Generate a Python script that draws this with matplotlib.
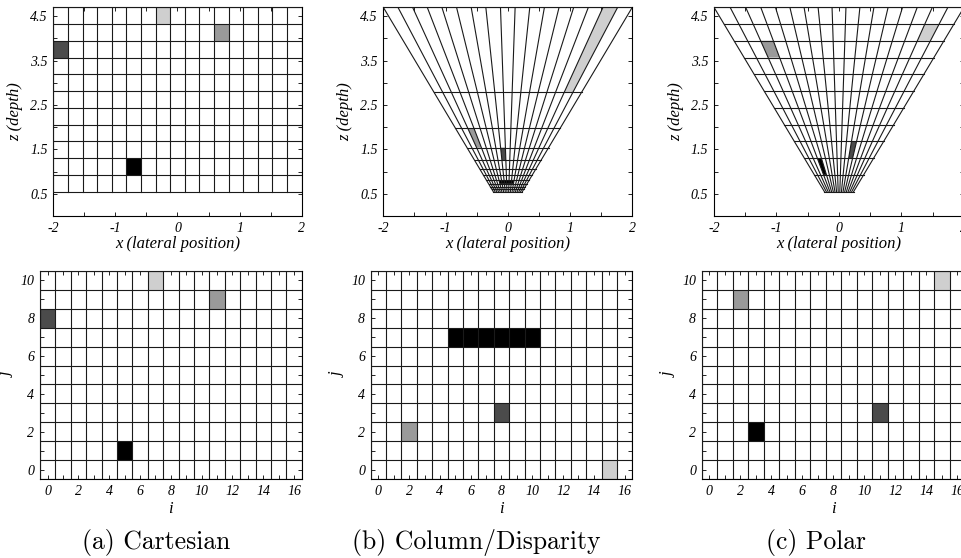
import numpy as np
import matplotlib
matplotlib.use("Agg")
import matplotlib.pyplot as plt
from matplotlib.patches import Polygon

plt.rcParams['font.family'] = ['Liberation Serif', 'DejaVu Serif']
plt.rcParams['font.style'] = 'italic'
plt.rcParams['axes.unicode_minus'] = False

# grid definition: 17 columns (i) x 11 rows (j)
n_cols = 17
n_rows = 11
z_near = 0.55
z_far = 4.7
x_half = 2.0

# shades of the highlighted cells
shades = {'black': '#000000', 'dark': '#4b4b4b', 'mid': '#9a9a9a', 'light': '#cfcfcf'}

# highlighted cells (i, j, shade) in grid index space (bottom row of panels)
cart_cells = [(5, 1, 'black'), (0, 8, 'dark'), (11, 9, 'mid'), (7, 10, 'light')]
col_cells = [(5, 7, 'black'), (6, 7, 'black'), (7, 7, 'black'), (8, 7, 'black'),
             (9, 7, 'black'), (10, 7, 'black'),
             (8, 3, 'dark'), (2, 2, 'mid'), (15, 0, 'light')]
polar_cells = [(3, 2, 'black'), (11, 3, 'dark'), (2, 9, 'mid'), (15, 10, 'light')]

# same cells as they appear in world space (top row of panels)
cart_cells_xz = cart_cells
col_cells_xz = [(5, 7, 'black'), (6, 7, 'black'), (7, 7, 'black'), (8, 7, 'black'),
                (9, 7, 'black'), (10, 7, 'black'),
                (7, 3, 'dark'), (2, 2, 'mid'), (15, 0, 'light')]
polar_cells_xz = [(3, 1, 'black'), (11, 2, 'dark'), (2, 8, 'mid'), (15, 9, 'light')]

x_ticks = [-2, -1.5, -1, -0.5, 0, 0.5, 1, 1.5, 2]
x_tick_labels = ['-2', '', '-1', '', '0', '', '1', '', '2']
z_ticks = [0.5, 1, 1.5, 2, 2.5, 3, 3.5, 4, 4.5]
z_tick_labels = ['0.5', '', '1.5', '', '2.5', '', '3.5', '', '4.5']
i_ticks = list(range(0, 17))
i_tick_labels = [str(v) if v % 2 == 0 else '' for v in i_ticks]
j_ticks = list(range(0, 11))
j_tick_labels = [str(v) if v % 2 == 0 else '' for v in j_ticks]

captions = ['(a) Cartesian', '(b) Column/Disparity', '(c) Polar']

W, H = 962, 558
fig = plt.figure(figsize=(W / 100, H / 100), dpi=100)


def px_axes(left, top, right, bottom):
    return fig.add_axes([left / W, 1 - bottom / H, (right - left) / W, (bottom - top) / H])


LINE = dict(color='#1a1a1a', lw=0.8, zorder=3)

# ray grids: tan of column boundaries, and z of row boundaries
T = x_half / z_far
tan_col = np.linspace(-T, T, n_cols + 1)
ang = np.arctan(T)
tan_polar = np.tan(np.linspace(-ang, ang, n_cols + 1))
z_lin = np.linspace(z_near, z_far, n_rows + 1)
z_disp = 1.0 / np.linspace(1.0 / z_far, 1.0 / z_near, n_rows + 1)  # j=0 is far
x_lin = np.linspace(-x_half, x_half, n_cols + 1)


def style_top(ax):
    ax.set_xlim(-2, 2)
    ax.set_ylim(0, z_far)
    ax.set_xticks(x_ticks, labels=x_tick_labels)
    ax.set_yticks(z_ticks, labels=z_tick_labels)
    ax.tick_params(direction='in', top=True, right=True, length=3, width=0.6,
                   labelsize=10, pad=4)
    ax.set_xlabel('x (lateral position)', fontsize=12, labelpad=1)
    ax.set_ylabel('z (depth)', fontsize=12, labelpad=5)
    for s in ax.spines.values():
        s.set_linewidth(0.8)


def style_bottom(ax):
    ax.set_xlim(-0.5, n_cols - 0.5)
    ax.set_ylim(-0.5, n_rows - 0.5)
    ax.set_xticks(i_ticks, labels=i_tick_labels)
    ax.set_yticks(j_ticks, labels=j_tick_labels)
    ax.tick_params(direction='in', top=True, right=True, length=3, width=0.6,
                   labelsize=10, pad=4)
    ax.set_xlabel('i', fontsize=12, labelpad=2)
    ax.set_ylabel('j', fontsize=12, labelpad=4)
    for v in np.arange(-0.5, n_cols, 1.0):
        ax.plot([v, v], [-0.5, n_rows - 0.5], **LINE)
    for v in np.arange(-0.5, n_rows, 1.0):
        ax.plot([-0.5, n_cols - 0.5], [v, v], **LINE)
    for s in ax.spines.values():
        s.set_linewidth(0.8)


def fill_index_cells(ax, cells):
    for i, j, c in cells:
        ax.add_patch(Polygon([(i - 0.5, j - 0.5), (i + 0.5, j - 0.5),
                              (i + 0.5, j + 0.5), (i - 0.5, j + 0.5)],
                             closed=True, fc=shades[c], ec='none', zorder=2))


def ray_grid(ax, tans, zs, cells):
    for i, j, c in cells:
        t0, t1 = tans[i], tans[i + 1]
        z0, z1 = zs[j], zs[j + 1]
        ax.add_patch(Polygon([(t0 * z0, z0), (t1 * z0, z0), (t1 * z1, z1), (t0 * z1, z1)],
                             closed=True, fc=shades[c], ec='none', zorder=2))
    for t in tans:
        ax.plot([t * z_near, t * z_far], [z_near, z_far], **LINE)
    for z in zs:
        ax.plot([tans[0] * z, tans[-1] * z], [z, z], **LINE)


# (a) Cartesian, world space
ax = px_axes(53.3, 7.3, 301.7, 216)
for i, j, c in cart_cells_xz:
    ax.add_patch(Polygon([(x_lin[i], z_lin[j]), (x_lin[i + 1], z_lin[j]),
                          (x_lin[i + 1], z_lin[j + 1]), (x_lin[i], z_lin[j + 1])],
                         closed=True, fc=shades[c], ec='none', zorder=2))
for v in x_lin:
    ax.plot([v, v], [z_near, z_far], **LINE)
for v in z_lin:
    ax.plot([-x_half, x_half], [v, v], **LINE)
style_top(ax)

# (b) Column/Disparity, world space
ax = px_axes(383.3, 7.3, 632.3, 216)
ray_grid(ax, tan_col, z_disp, col_cells_xz)
style_top(ax)

# (c) Polar, world space
ax = px_axes(714, 7.3, 964, 216)
ray_grid(ax, tan_polar, z_lin, polar_cells_xz)
style_top(ax)

# index space
ax = px_axes(40, 270.7, 301.7, 479.3)
fill_index_cells(ax, cart_cells)
style_bottom(ax)

ax = px_axes(370.7, 270.7, 632.3, 479.3)
fill_index_cells(ax, col_cells)
style_bottom(ax)

ax = px_axes(701.7, 270.7, 965, 479.3)
fill_index_cells(ax, polar_cells)
style_bottom(ax)

for xc, txt in zip([156, 476, 816], captions):
    fig.text(xc / W, 1 - 542 / H, txt, family='cmr10', style='normal',
             fontsize=18.5, ha='center', va='center')

fig.savefig('out.png', dpi=100)
